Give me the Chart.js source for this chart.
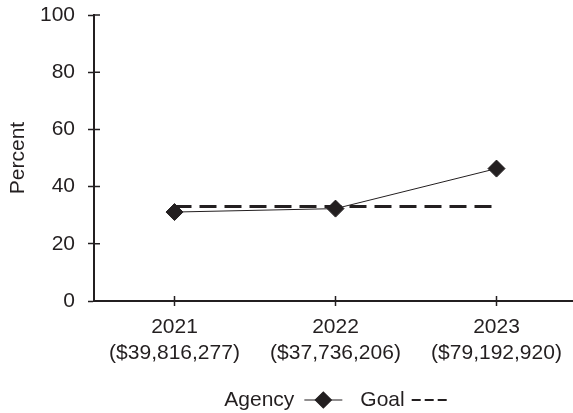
<!DOCTYPE html>
<html>
<head>
<meta charset="utf-8">
<title>Agency vs Goal</title>
<script src="https://cdn.jsdelivr.net/npm/chart.js@4/dist/chart.umd.min.js"></script>
<style>
  html, body { margin: 0; padding: 0; background: #ffffff; overflow: hidden; }
  #wrap { width: 573px; height: 413px; overflow: hidden; }
</style>
</head>
<body>
<div id="wrap">
  <canvas id="goalChart" width="577" height="413"></canvas>
</div>
<script>
// ============================================
// DATA
// ============================================
const years = ['2021', '2022', '2023'];
const budgets = ['($39,816,277)', '($37,736,206)', '($79,192,920)'];
const agencyValues = [31.1, 32.3, 46.3];
const goalValues = [33, 33, 33];
const yTicks = [0, 20, 40, 60, 80, 100];

const INK = '#231f20';
const FONT = '"Liberation Sans", Arial, sans-serif';
const FONT_SIZE = 21;

// ============================================
// CROSSING TICK MARKS (inner half of each tick)
// ============================================
const innerTicks = {
  id: 'innerTicks',
  afterDatasetsDraw(chart) {
    const ctx = chart.ctx;
    const area = chart.chartArea;
    const x = chart.scales.x;
    const y = chart.scales.y;
    ctx.save();
    ctx.strokeStyle = INK;
    ctx.lineWidth = 1.5;
    ctx.beginPath();
    y.ticks.forEach((t, i) => {
      const py = y.getPixelForTick(i);
      ctx.moveTo(area.left, py);
      ctx.lineTo(area.left + 6, py);
    });
    x.ticks.forEach((t, i) => {
      const px = x.getPixelForTick(i);
      ctx.moveTo(px, area.bottom);
      ctx.lineTo(px, area.bottom - 5);
    });
    ctx.stroke();
    ctx.restore();
  }
};

// ============================================
// LEGEND (text first, symbol after)
// ============================================
const textLegend = {
  id: 'textLegend',
  afterDraw(chart) {
    const ctx = chart.ctx;
    const area = chart.chartArea;
    const sets = chart.data.datasets;
    const legendY = 400;
    const textGap = [10, 7];
    const itemGap = 18;
    const symbolW = [38, 35];

    ctx.save();
    ctx.font = FONT_SIZE + 'px ' + FONT;
    ctx.textBaseline = 'middle';
    ctx.textAlign = 'left';

    let total = 0;
    sets.forEach((ds, i) => {
      total += ctx.measureText(ds.label).width + textGap[i] + symbolW[i];
      if (i < sets.length - 1) total += itemGap;
    });

    // reference legend sits roughly under the plot centre
    let cx = (area.left + area.right) / 2 - total / 2;
    sets.forEach((ds, i) => {
      ctx.fillStyle = INK;
      ctx.fillText(ds.label, cx, legendY);
      cx += ctx.measureText(ds.label).width + textGap[i];

      ctx.strokeStyle = INK;
      if (ds.pointRadius > 0) {
        ctx.lineWidth = 1.2;
        ctx.setLineDash([]);
        ctx.beginPath();
        ctx.moveTo(cx, legendY);
        ctx.lineTo(cx + symbolW[i], legendY);
        ctx.stroke();
        ctx.fillStyle = INK;
        Chart.helpers.drawPoint(ctx, {
          pointStyle: 'rectRot',
          radius: 8,
          borderWidth: 1
        }, cx + symbolW[i] / 2, legendY);
      } else {
        ctx.lineWidth = 2.2;
        ctx.setLineDash([9, 4]);
        ctx.beginPath();
        ctx.moveTo(cx, legendY);
        ctx.lineTo(cx + symbolW[i], legendY);
        ctx.stroke();
        ctx.setLineDash([]);
      }
      cx += symbolW[i] + itemGap;
    });
    ctx.restore();
  }
};

// ============================================
// CHART
// ============================================
new Chart(document.getElementById('goalChart'), {
  type: 'line',
  data: {
    labels: years.map((yr, i) => [yr, budgets[i]]),
    datasets: [{
      label: 'Agency',
      data: agencyValues,
      borderColor: INK,
      backgroundColor: INK,
      borderWidth: 1,
      pointStyle: 'rectRot',
      pointRadius: 8.5,
      pointBorderWidth: 1,
      pointBackgroundColor: INK,
      pointBorderColor: INK,
      tension: 0
    }, {
      label: 'Goal',
      data: goalValues,
      borderColor: INK,
      borderWidth: 3,
      borderDash: [17, 8],
      pointRadius: 0,
      tension: 0
    }]
  },
  options: {
    responsive: false,
    animation: false,
    devicePixelRatio: 1,
    layout: {
      autoPadding: false,
      padding: { top: 15, left: 0, right: 0, bottom: 0 }
    },
    plugins: {
      legend: { display: false },
      tooltip: { enabled: false }
    },
    scales: {
      x: {
        offset: true,
        afterFit(scale) {
          scale.height = 112;
          scale.paddingLeft = 0;
          scale.paddingRight = 0;
        },
        border: { color: INK, width: 2 },
        grid: {
          drawOnChartArea: false,
          drawTicks: true,
          tickLength: 5,
          tickWidth: 1.5,
          tickColor: INK
        },
        ticks: {
          color: INK,
          font: { family: FONT, size: FONT_SIZE, lineHeight: 1.25 },
          padding: 8,
          maxRotation: 0,
          autoSkip: false
        }
      },
      y: {
        min: yTicks[0],
        max: yTicks[yTicks.length - 1],
        afterFit(scale) {
          scale.width = 94;
          scale.paddingTop = 0;
          scale.paddingBottom = 0;
        },
        afterBuildTicks(scale) { scale.ticks = yTicks.map(v => ({ value: v })); },
        border: { color: INK, width: 2 },
        grid: {
          drawOnChartArea: false,
          drawTicks: true,
          tickLength: 6,
          tickWidth: 1.5,
          tickColor: INK
        },
        ticks: {
          color: INK,
          font: { family: FONT, size: FONT_SIZE },
          padding: 13
        },
        title: {
          display: true,
          text: 'Percent',
          color: INK,
          font: { family: FONT, size: FONT_SIZE },
          padding: { top: 6, bottom: 0 }
        }
      }
    }
  },
  plugins: [innerTicks, textLegend]
});
</script>
</body>
</html>
